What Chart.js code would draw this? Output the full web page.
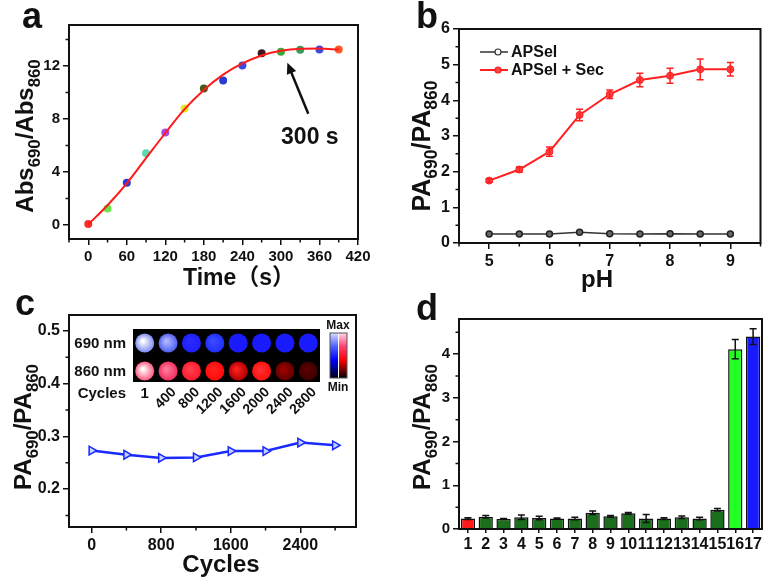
<!DOCTYPE html>
<html>
<head>
<meta charset="utf-8">
<script src="https://cdn.jsdelivr.net/npm/chart.js@4.4.0/dist/chart.umd.min.js"></script>
<style>
  body { margin: 0; background: #fff; }
  #wrap { position: relative; width: 766px; height: 579px; }
  #wrap canvas { position: absolute; left: 0; top: 0; }
</style>
</head>
<body>
<div id="wrap">
  <canvas id="chartA" width="766" height="579"></canvas>
  <canvas id="chartB" width="766" height="579"></canvas>
  <canvas id="chartC" width="766" height="579"></canvas>
  <canvas id="chartD" width="766" height="579"></canvas>
</div>
<script>
// ---- panel a: Abs690/Abs860 vs time
const timeSec  = [0, 30, 60, 90, 120, 150, 180, 210, 240, 270, 300, 330, 360, 390];
const absRatio = [0.08, 1.26, 3.2, 5.42, 6.98, 8.8, 10.31, 10.92, 12.05, 12.96, 13.08, 13.23, 13.26, 13.26];
const absFit   = [0.05, 1.5, 3.15, 5.05, 6.95, 8.75, 10.2, 11.35, 12.2, 12.8, 13.15, 13.3, 13.32, 13.25];
const dotColors = ['#ff2a2a', '#66e64a', '#2a3ad8', '#5ad8b0', '#a64ae6', '#e6e62a', '#4a5a1a',
                   '#2a3ad0', '#3a4ae0', '#3a1a1a', '#3aaa3a', '#3a9a5a', '#3a4ae0', '#ff5a2a'];

// ---- panel b: PA ratio vs pH
const pHVals      = [5, 5.5, 6, 6.5, 7, 7.5, 8, 8.5, 9];
const apsel       = [0.25, 0.25, 0.25, 0.30, 0.26, 0.25, 0.26, 0.25, 0.25];
const apselSec    = [1.75, 2.06, 2.56, 3.59, 4.17, 4.57, 4.69, 4.87, 4.87];
const apselSecErr = [0.05, 0.07, 0.13, 0.16, 0.12, 0.19, 0.21, 0.29, 0.19];

// ---- panel c: PA ratio vs laser cycles
const cycles      = [0, 400, 800, 1200, 1600, 2000, 2400, 2800];
const cycleRatio  = [0.273, 0.265, 0.259, 0.260, 0.272, 0.272, 0.288, 0.283];
const cycleTicks  = [0, 400, 800, 1200, 1600, 2000, 2400, 2800];
const insetCycles = ['1', '400', '800', '1200', '1600', '2000', '2400', '2800'];

// ---- panel d: selectivity bars
const groups     = ['1','2','3','4','5','6','7','8','9','10','11','12','13','14','15','16','17'];
const groupRatio = [0.24, 0.28, 0.23, 0.27, 0.25, 0.24, 0.24, 0.37, 0.29, 0.36, 0.24, 0.24, 0.27, 0.24, 0.44, 4.11, 4.40];
const groupErr   = [0.02, 0.03, 0.01, 0.05, 0.04, 0.01, 0.03, 0.04, 0.02, 0.02, 0.09, 0.02, 0.03, 0.03, 0.03, 0.22, 0.18];
const groupColors = ['#ff1a1a'].concat(Array(14).fill('#1b6e1b'), ['#22ff22', '#1a1aff']);

const FONT = "'Liberation Sans', Arial, 'Noto Sans CJK SC', sans-serif";
const INK = '#111';

function bold(size) { return 'bold ' + size + 'px ' + FONT; }

// place the plot box at a fixed spot on the page
function pad(L, T, R, B) {
  return { left: L - 45, top: T, right: 766 - R, bottom: 579 - B - 25 };
}

// major ticks drawn by Chart.js, unlabelled (minor) ones hidden here and drawn shorter by boxPlugin
function majorTickColor(c) {
  return (c.tick && c.tick.label === '') ? 'rgba(0,0,0,0)' : INK;
}

function linAxis(min, max, step, size, label, isX, list) {
  const ax = {
    type: 'linear', min: min, max: max,
    afterFit: isX ? function(s) { s.height = 25; } : function(s) { s.width = 45; },
    border: { display: false },
    grid: { drawOnChartArea: false, drawTicks: true, tickLength: 6, color: INK, lineWidth: 1.5,
            tickColor: majorTickColor },
    ticks: { stepSize: step, includeBounds: false, autoSkip: false, maxRotation: 0, padding: 3,
             color: INK, font: { family: FONT, size: size, weight: 'bold' }, callback: label }
  };
  if (list) {
    ax.afterBuildTicks = function(s) { s.ticks = list.map(function(v) { return { value: v }; }); };
  }
  return ax;
}

// text with subscripts, parts = [[text, isSub], ...]
function rich(ctx, parts, x, y, size, rotate) {
  ctx.save();
  ctx.translate(x, y);
  if (rotate) ctx.rotate(-Math.PI / 2);
  let w = 0;
  parts.forEach(function(p) { ctx.font = bold(p[1] ? size * 0.7 : size); w += ctx.measureText(p[0]).width; });
  let cx = -w / 2;
  ctx.textAlign = 'left';
  ctx.textBaseline = 'alphabetic';
  ctx.fillStyle = INK;
  parts.forEach(function(p) {
    ctx.font = bold(p[1] ? size * 0.7 : size);
    ctx.fillText(p[0], cx, p[1] ? size * 0.28 : 0);
    cx += ctx.measureText(p[0]).width;
  });
  ctx.restore();
}

function plain(ctx, text, x, y, size, align) {
  ctx.save();
  ctx.font = bold(size);
  ctx.fillStyle = INK;
  ctx.textAlign = align || 'center';
  ctx.textBaseline = 'alphabetic';
  ctx.fillText(text, x, y);
  ctx.restore();
}

const boxPlugin = {
  id: 'box',
  afterDatasetsDraw(chart) {
    const a = chart.chartArea, ctx = chart.ctx;
    ctx.save();
    ctx.strokeStyle = INK;
    ctx.lineWidth = 2;
    ctx.strokeRect(a.left, a.top, a.right - a.left, a.bottom - a.top);
    // short minor ticks
    ctx.lineWidth = 1.5;
    ctx.beginPath();
    ['x', 'y'].forEach(function(id) {
      const s = chart.scales[id];
      if (s.type !== 'linear') return;
      s.ticks.forEach(function(t) {
        if (t.label !== '') return;
        const p = s.getPixelForValue(t.value);
        if (id === 'x') { ctx.moveTo(p, a.bottom); ctx.lineTo(p, a.bottom + 3.5); }
        else { ctx.moveTo(a.left - 3.5, p); ctx.lineTo(a.left, p); }
      });
    });
    ctx.stroke();
    ctx.restore();
  }
};

function errorBars(dsIndex, errs, color, cap) {
  return {
    id: 'err' + dsIndex,
    afterDatasetsDraw(chart) {
      const meta = chart.getDatasetMeta(dsIndex);
      const ys = chart.scales.y;
      const vals = chart.data.datasets[dsIndex].data;
      const ctx = chart.ctx;
      ctx.save();
      ctx.strokeStyle = color;
      ctx.lineWidth = 1.5;
      meta.data.forEach(function(el, i) {
        const v = (typeof vals[i] === 'object') ? vals[i].y : vals[i];
        const x = el.x;
        const y1 = ys.getPixelForValue(v + errs[i]);
        const y2 = ys.getPixelForValue(v - errs[i]);
        ctx.beginPath();
        ctx.moveTo(x, y1); ctx.lineTo(x, y2);
        ctx.moveTo(x - cap, y1); ctx.lineTo(x + cap, y1);
        ctx.moveTo(x - cap, y2); ctx.lineTo(x + cap, y2);
        ctx.stroke();
      });
      ctx.restore();
    }
  };
}

const base = {
  responsive: false,
  animation: false,
  events: [],
  plugins: { legend: { display: false }, tooltip: { enabled: false } }
};

// ================= a =================
new Chart(document.getElementById('chartA'), {
  type: 'line',
  data: {
    datasets: [
      {
        data: timeSec.map(function(t, i) { return { x: t, y: absFit[i] }; }),
        borderColor: '#ff1a1a', borderWidth: 2, pointRadius: 0,
        cubicInterpolationMode: 'monotone', fill: false
      },
      {
        data: timeSec.map(function(t, i) { return { x: t, y: absRatio[i] }; }),
        showLine: false, pointRadius: 4, pointBorderWidth: 0,
        pointBackgroundColor: dotColors, pointBorderColor: dotColors
      }
    ]
  },
  options: Object.assign({}, base, {
    layout: { padding: pad(69, 25, 358, 239) },
    scales: {
      x: linAxis(-30, 420, 30, 15, function(v) { return (v >= 0 && v % 60 === 0) ? v : ''; }, true),
      y: linAxis(-1.05, 15.1, 2, 15, function(v) { return (v >= 0 && v % 4 === 0) ? v : ''; }, false)
    }
  }),
  plugins: [boxPlugin, {
    id: 'decorA',
    afterDraw(chart) {
      const ctx = chart.ctx, xs = chart.scales.x, ys = chart.scales.y;
      plain(ctx, 'a', 22, 28, 36, 'left');
      rich(ctx, [['Abs', false], ['690', true], ['/Abs', false], ['860', true]], 33, 136, 24, true);
      plain(ctx, 'Time（s）', 183, 285, 23, 'left');
      // arrow to the 300 s point
      const tx = xs.getPixelForValue(310), ty = ys.getPixelForValue(12.25);
      const sx = xs.getPixelForValue(342.6), sy = ys.getPixelForValue(8.4);
      const ang = Math.atan2(ty - sy, tx - sx);
      ctx.save();
      ctx.strokeStyle = INK; ctx.fillStyle = INK; ctx.lineWidth = 2.5;
      ctx.beginPath();
      ctx.moveTo(sx, sy);
      ctx.lineTo(tx - 8 * Math.cos(ang), ty - 8 * Math.sin(ang));
      ctx.stroke();
      ctx.beginPath();
      ctx.moveTo(tx, ty);
      ctx.lineTo(tx - 11 * Math.cos(ang) + 5 * Math.sin(ang), ty - 11 * Math.sin(ang) - 5 * Math.cos(ang));
      ctx.lineTo(tx - 11 * Math.cos(ang) - 5 * Math.sin(ang), ty - 11 * Math.sin(ang) + 5 * Math.cos(ang));
      ctx.closePath();
      ctx.fill();
      ctx.restore();
      ctx.save();
      ctx.font = bold(23); ctx.fillStyle = INK;
      ctx.textAlign = 'center'; ctx.textBaseline = 'middle';
      ctx.fillText('300 s', xs.getPixelForValue(345), ys.getPixelForValue(6.6));
      ctx.restore();
    }
  }]
});

// ================= b =================
new Chart(document.getElementById('chartB'), {
  type: 'line',
  data: {
    datasets: [
      {
        label: 'APSel + Sec',
        data: pHVals.map(function(p, i) { return { x: p, y: apselSec[i] }; }),
        borderColor: '#ff2020', borderWidth: 2, pointRadius: 3.5,
        pointBackgroundColor: '#ff4040', pointBorderColor: '#ff2020', pointBorderWidth: 1
      },
      {
        label: 'APSel',
        data: pHVals.map(function(p, i) { return { x: p, y: apsel[i] }; }),
        borderColor: '#333', borderWidth: 1.5, pointRadius: 3,
        pointBackgroundColor: '#666', pointBorderColor: '#222', pointBorderWidth: 1.5
      }
    ]
  },
  options: Object.assign({}, base, {
    layout: { padding: pad(459, 29, 761, 243) },
    scales: {
      x: linAxis(4.5, 9.5, 0.5, 16, function(v) { return Number.isInteger(v) ? v : ''; }, true),
      y: linAxis(0, 6, 0.5, 16, function(v) { return Number.isInteger(v) ? v : ''; }, false)
    }
  }),
  plugins: [boxPlugin, errorBars(0, apselSecErr, '#ff2020', 3.5), {
    id: 'decorB',
    afterDraw(chart) {
      const ctx = chart.ctx, a = chart.chartArea;
      plain(ctx, 'b', 416, 28, 36, 'left');
      rich(ctx, [['PA', false], ['690', true], ['/PA', false], ['860', true]], 430, 146, 25, true);
      plain(ctx, 'pH', 597, 287, 24, 'center');
      // legend inside the plot
      const rows = [
        { ds: chart.data.datasets[1], fill: '#fff' },
        { ds: chart.data.datasets[0], fill: '#ff4040' }
      ];
      rows.forEach(function(r, i) {
        const y = a.top + 23 + i * 18;
        const x0 = a.left + 21, x1 = a.left + 49;
        ctx.save();
        ctx.strokeStyle = r.ds.borderColor; ctx.lineWidth = r.ds.borderWidth;
        ctx.beginPath(); ctx.moveTo(x0, y); ctx.lineTo(x1, y); ctx.stroke();
        ctx.beginPath(); ctx.arc((x0 + x1) / 2 + 4, y, 3, 0, Math.PI * 2);
        ctx.fillStyle = r.fill; ctx.fill(); ctx.lineWidth = 1.2; ctx.stroke();
        ctx.font = bold(16); ctx.fillStyle = INK;
        ctx.textAlign = 'left'; ctx.textBaseline = 'middle';
        ctx.fillText(r.ds.label, x1 + 3, y + 1);
        ctx.restore();
      });
    }
  }]
});

// ================= c =================
const row690 = [['#ffffff', '#7f8cf0'], ['#b0b8ff', '#5060f0'], ['#2a2aff', '#1e1eff'], ['#3a4aff', '#2030ff'],
                ['#1a1aff', '#1a1aff'], ['#1a1aff', '#1a1aff'], ['#1a1aff', '#1a1aff'], ['#1a1aff', '#1a1aff']];
const row860 = [['#ffffff', '#ff5a80'], ['#ff7a9a', '#f03060'], ['#ff4050', '#ff1a2a'], ['#ff2020', '#ff0a0a'],
                ['#ff2020', '#b00000'], ['#ff3030', '#ff1010'], ['#a00000', '#600000'], ['#600000', '#3a0000']];

new Chart(document.getElementById('chartC'), {
  type: 'line',
  data: {
    datasets: [{
      data: cycles.map(function(c, i) { return { x: c, y: cycleRatio[i] }; }),
      borderColor: '#1a2aff', borderWidth: 2.5,
      pointStyle: 'triangle', rotation: 90, pointRadius: 5,
      pointBackgroundColor: '#c8d0ff', pointBorderColor: '#1a2aff', pointBorderWidth: 1.5
    }]
  },
  options: Object.assign({}, base, {
    layout: { padding: pad(69, 315, 356, 527) },
    scales: {
      x: linAxis(-260, 3040, 400, 16, function(v) { return (v % 800 === 0) ? v : ''; }, true, cycleTicks),
      y: linAxis(0.128, 0.53, 0.05, 16, function(v) {
        return Math.abs(v * 10 - Math.round(v * 10)) < 1e-6 ? v.toFixed(1) : '';
      }, false)
    }
  }),
  plugins: [boxPlugin, {
    id: 'decorC',
    afterDraw(chart) {
      const ctx = chart.ctx, a = chart.chartArea;
      plain(ctx, 'c', 15, 315, 36, 'left');
      rich(ctx, [['PA', false], ['690', true], ['/PA', false], ['860', true]], 31, 427, 24, true);
      plain(ctx, 'Cycles', 221, 572, 24, 'center');

      // photoacoustic image inset
      const rx = a.left + 64, ry = a.top + 14, rw = 187, rh = 53;
      ctx.save();
      ctx.fillStyle = '#000';
      ctx.fillRect(rx, ry, rw, rh);
      const rowsY = [ry + 14, ry + 42];
      [row690, row860].forEach(function(row, r) {
        row.forEach(function(c, i) {
          const cx = rx + (i + 0.5) * rw / 8, cy = rowsY[r], rad = 9.5;
          const g = ctx.createRadialGradient(cx - 2, cy - 2, 1, cx, cy, rad);
          g.addColorStop(0, c[0]);
          g.addColorStop(1, c[1]);
          ctx.fillStyle = g;
          ctx.beginPath(); ctx.arc(cx, cy, rad, 0, Math.PI * 2); ctx.fill();
        });
      });
      ctx.restore();

      plain(ctx, '690 nm', rx - 7, rowsY[0] + 5, 15, 'right');
      plain(ctx, '860 nm', rx - 7, rowsY[1] + 5, 15, 'right');
      plain(ctx, 'Cycles', rx - 7, ry + 69, 15, 'right');
      insetCycles.forEach(function(t, i) {
        const cx = rx + (i + 0.5) * rw / 8;
        if (i === 0) { plain(ctx, t, cx, ry + 69, 15, 'center'); return; }
        ctx.save();
        ctx.translate(cx + 6, ry + 61);
        ctx.rotate(-Math.PI / 4);
        ctx.font = bold(14); ctx.fillStyle = INK;
        ctx.textAlign = 'right'; ctx.textBaseline = 'middle';
        ctx.fillText(t, 0, 0);
        ctx.restore();
      });

      // colour bar
      const bx = rx + rw + 10, by = ry + 4, bw = 8, bh = 45;
      ctx.save();
      const gb = ctx.createLinearGradient(0, by, 0, by + bh);
      gb.addColorStop(0, '#d8dcff'); gb.addColorStop(0.3, '#5060ff');
      gb.addColorStop(0.6, '#0000ff'); gb.addColorStop(1, '#000010');
      ctx.fillStyle = gb; ctx.fillRect(bx, by, bw, bh);
      const gr = ctx.createLinearGradient(0, by, 0, by + bh);
      gr.addColorStop(0, '#ffd8e8'); gr.addColorStop(0.3, '#ff4070');
      gr.addColorStop(0.6, '#ff0000'); gr.addColorStop(1, '#000000');
      ctx.fillStyle = gr; ctx.fillRect(bx + bw + 1, by, bw, bh);
      ctx.strokeStyle = '#555'; ctx.lineWidth = 1;
      ctx.strokeRect(bx, by, bw * 2 + 1, bh);
      ctx.restore();
      plain(ctx, 'Max', bx + bw, by - 4, 12, 'center');
      plain(ctx, 'Min', bx + bw, by + bh + 13, 12, 'center');
    }
  }]
});

// ================= d =================
new Chart(document.getElementById('chartD'), {
  type: 'bar',
  data: {
    labels: groups,
    datasets: [{
      data: groupRatio,
      backgroundColor: groupColors,
      borderColor: '#111', borderWidth: 1.5,
      barPercentage: 0.8, categoryPercentage: 1
    }]
  },
  options: Object.assign({}, base, {
    layout: { padding: pad(459, 319, 762, 529) },
    scales: {
      x: {
        type: 'category', offset: true,
        afterFit: function(s) { s.height = 25; },
        border: { display: false },
        grid: { drawOnChartArea: false, drawTicks: true, tickLength: 4, color: INK, lineWidth: 1.5, offset: false },
        ticks: { autoSkip: false, maxRotation: 0, padding: 2, color: INK,
                 font: { family: FONT, size: 16, weight: 'bold' } }
      },
      y: linAxis(0, 4.8, 0.5, 15, function(v) { return Number.isInteger(v) ? v : ''; }, false)
    }
  }),
  plugins: [boxPlugin, errorBars(0, groupErr, '#111', 3.5), {
    id: 'decorD',
    afterDraw(chart) {
      const ctx = chart.ctx;
      plain(ctx, 'd', 416, 320, 36, 'left');
      rich(ctx, [['PA', false], ['690', true], ['/PA', false], ['860', true]], 430, 427, 24, true);
    }
  }]
});
</script>
</body>
</html>
